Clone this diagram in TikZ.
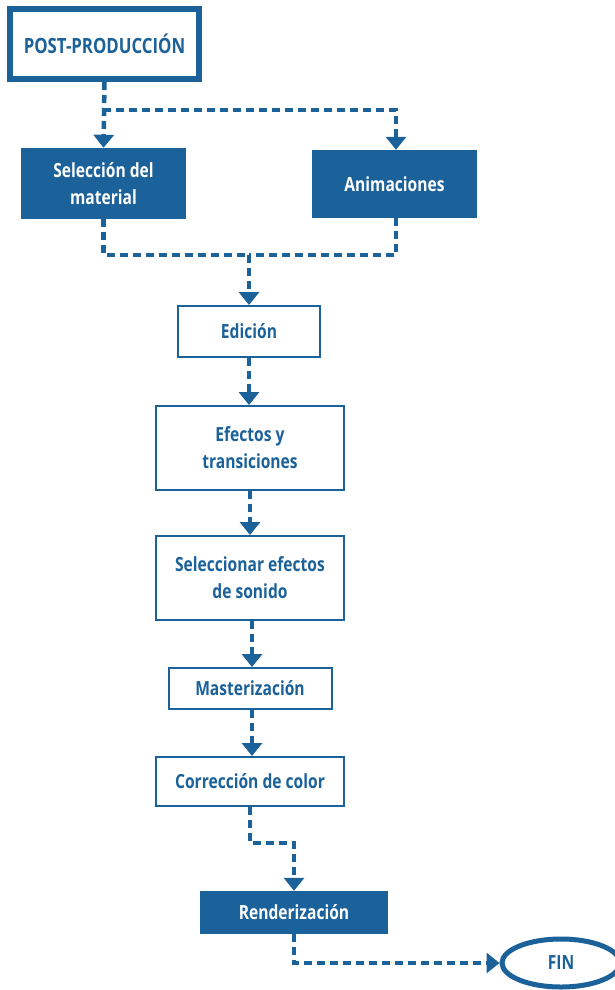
\documentclass[tikz,border=0pt]{standalone}
\usepackage{fontspec}
\setmainfont[FakeStretch=0.8]{Open Sans}
\usetikzlibrary{arrows.meta,shapes.geometric}
\definecolor{azul}{HTML}{1B619A}
\tikzset{
  x=1pt, y=-1pt,
  lbl/.style={font=\bfseries\fontsize{19.5}{27}\selectfont, align=center, inner sep=0pt},
  filledbox/.style={lbl, rectangle, fill=azul, text=white},
  outbox/.style={lbl, rectangle, draw=azul, line width=2pt, text=azul, fill=white},
  dline/.style={draw=azul, line width=4.5pt, dash pattern=on 8pt off 5pt},
  conn/.style={dline, -{Triangle[width=20pt,length=13pt]}, shorten >=0pt},
}
\begin{document}
\begin{tikzpicture}
\path[use as bounding box, fill=white] (0,0) rectangle (614,990);
\node[outbox, line width=6pt, minimum width=189pt, minimum height=70pt, font=\bfseries\fontsize{21}{24}\selectfont] (post) at (104.5,44) {POST-PRODUCCIÓN};
\node[filledbox, minimum width=165pt, minimum height=71pt] (sel) at (103.5,183.5) {Selección del\\material};
\node[filledbox, minimum width=165pt, minimum height=68pt] (anim) at (394.5,184) {Animaciones};
\node[outbox, minimum width=142pt, minimum height=51pt] (edic) at (249,331.5) {Edición};
\node[outbox, minimum width=188pt, minimum height=84pt] (efec) at (250,448) {Efectos y\\transiciones};
\node[outbox, minimum width=188pt, minimum height=84pt] (sonido) at (250,578) {Seleccionar efectos\\de sonido};
\node[outbox, minimum width=163pt, minimum height=41pt] (master) at (250,688.5) {Masterización};
\node[outbox, minimum width=188pt, minimum height=49pt] (corr) at (250,781.5) {Corrección de color};
\node[filledbox, minimum width=188pt, minimum height=43pt] (rend) at (294,912.5) {Renderización};
\node[ellipse, draw=azul, line width=5pt, fill=white, minimum width=118pt, minimum height=48pt, lbl, text=azul] (fin) at (561,963) {FIN};
\coordinate (b1) at (103,110);
\coordinate (m1) at (249,255);
\draw[conn] (post.south) -- (sel.north);
\draw[conn] (b1) -| ([xshift=1.5pt]anim.north);
\draw[dline] (sel.south) |- (m1);
\draw[dline] ([xshift=1.5pt]anim.south) |- (m1);
\draw[conn] (m1) -- (edic.north);
\draw[conn] (edic.south) -- (edic.south |- efec.north);
\draw[conn] (efec.south) -- (sonido.north);
\draw[conn] ([xshift=2pt]sonido.south) -- ([xshift=2pt]master.north);
\draw[conn] ([xshift=2pt]master.south) -- ([xshift=2pt]corr.north);
\draw[conn] (corr.south) -- ++(0,36) -| (rend.north);
\draw[conn] (rend.south) |- (fin.west);
\end{tikzpicture}
\end{document}
